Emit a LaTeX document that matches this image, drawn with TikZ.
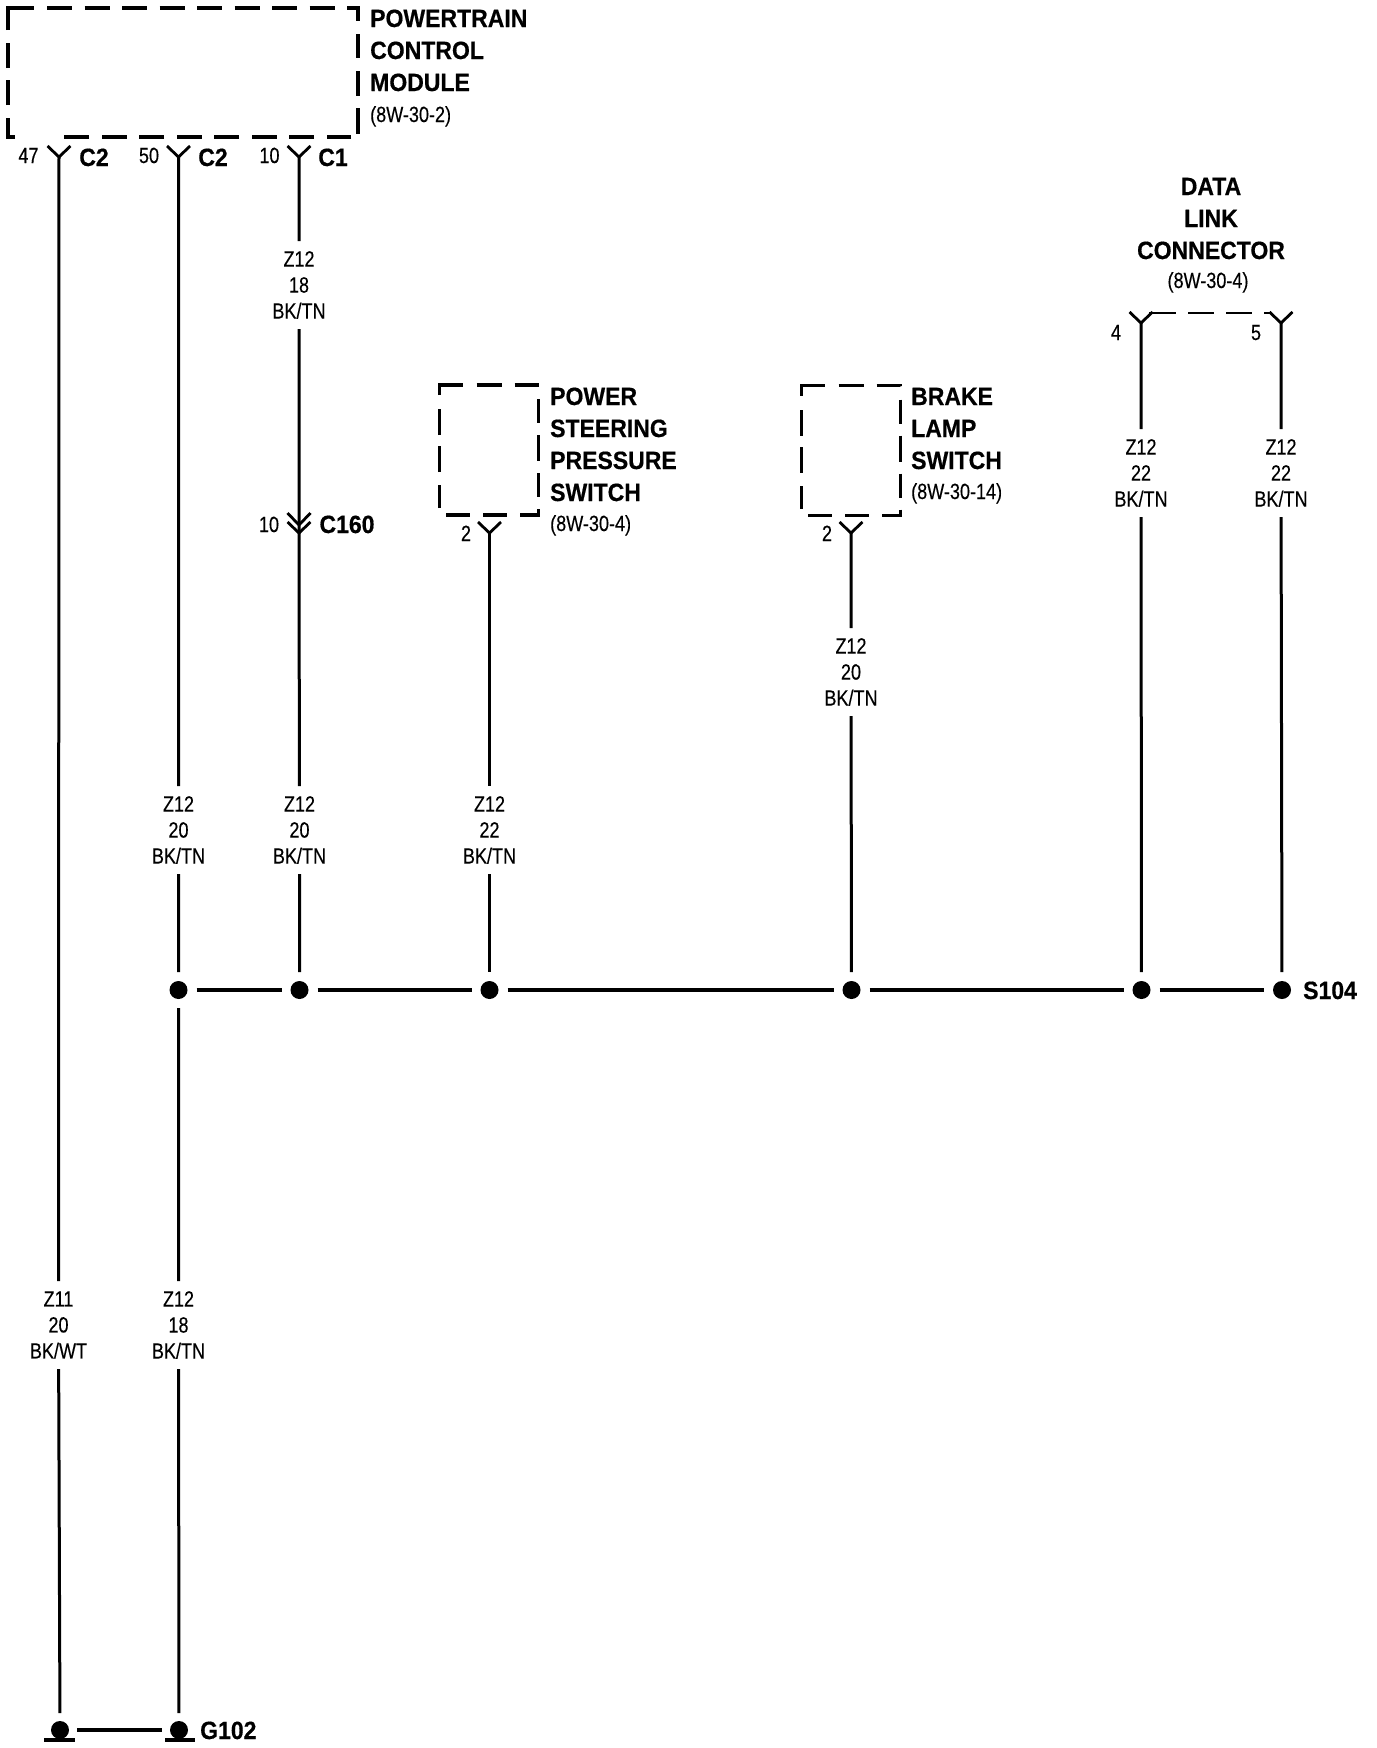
\documentclass[tikz,border=0pt]{standalone}
\usepackage{fontspec}
\newfontfamily\lblfont[FakeStretch=0.82,UprightFeatures={FakeBold=0.25}]{Liberation Sans}
\newfontfamily\hdrfont[FakeStretch=0.92,BoldFeatures={FakeBold=0.5}]{Liberation Sans}
\tikzset{
  wire/.style={line width=3pt,line cap=butt,line join=miter},
  bus/.style={line width=4.2pt},
  pinmark/.style={line width=2.8pt,line join=miter},
  boxline/.style={line width=3.6pt,line cap=butt,line join=miter},
  junction/.style={circle,fill=black,minimum size=18pt,inner sep=0pt,outer sep=9pt},
  wirelabel/.style={align=center,minimum height=88pt,inner sep=0pt,outer sep=0pt,
    font=\lblfont\fontsize{22}{26}\selectfont},
  small/.style={inner sep=0pt,text height=16pt,text depth=0pt,font=\lblfont\fontsize{22}{26}\selectfont},
  head/.style={inner sep=0pt,text height=18pt,text depth=0pt,font=\hdrfont\bfseries\fontsize{25}{30}\selectfont},
  holder/.style={inner sep=0pt,outer sep=0pt},
  psdash/.style={boxline,dash pattern=on 33pt off 14pt on 25pt off 13pt on 24pt off 14pt on 24pt off 12pt on 26pt off 12pt on 24pt off 12pt on 25pt off 13pt on 24pt off 13pt on 24pt off 13pt on 23pt off 13pt on 26pt off 11pt on 26pt off 14pt}
}
\newcommand\Ypin[3]{\coordinate (#1) at (#2,#3);
  \draw[pinmark] ([shift={(-11.5,-11)}]#1) -- (#1) -- ([shift={(11.5,-11)}]#1);}
\begin{document}
\begin{tikzpicture}[x=1pt,y=-1pt]
\useasboundingbox (0,0) rectangle (1376,1748);
% PCM box
\node[holder,minimum width=350pt,minimum height=129pt] (pcm) at (183,72.5) {};
\draw[boxline,dash pattern=on 26pt off 13pt on 25pt off 12pt on 25pt off 13pt on 48pt off 13pt on 25pt off 12.5pt on 25pt off 12.5pt on 25pt off 12.5pt on 25pt off 12.5pt on 25pt off 12.5pt on 25pt off 12.5pt on 25pt off 12.5pt on 25pt off 12.5pt on 25pt]
  ([xshift=7pt]pcm.south west) -- (pcm.south west) -- (pcm.north west) -- (pcm.north east) -- ([yshift=-13pt]pcm.north east);
\draw[boxline,dash pattern=on 24pt off 13pt on 25pt off 12pt on 26pt off 10pt on 24pt off 13pt on 25pt off 12.5pt on 25pt off 12.5pt on 25pt off 12.5pt on 25pt off 12.5pt on 25pt off 12.5pt on 25pt off 12.5pt on 25pt]
  ([yshift=-26pt]pcm.north east) -- (pcm.south east) -- ([xshift=38pt]pcm.south west);
\node[head,anchor=west] (t1) at (370,18) {POWERTRAIN};
\node[head,anchor=west] (t2) at (370,50) {CONTROL};
\node[head,anchor=west] (t3) at (370,82) {MODULE};
\node[small,anchor=west] (t4) at (370,114) {(8W-30-2)};
% PCM pins
\Ypin{p47}{59}{157}
\Ypin{p50}{178.5}{157}
\Ypin{p10}{299}{157}
\node[small] (n47) at (28.5,155) {47};
\node[small] (n50) at (149,155) {50};
\node[small] (n10) at (269.5,155) {10};
\node[head] (c2a) at (94,157) {C2};
\node[head] (c2b) at (213,157) {C2};
\node[head] (c1) at (333,157) {C1};
% C160 connector
\coordinate (c160up) at (299,525);
\coordinate (c160lo) at (299,533);
\draw[pinmark] ([shift={(-11.5,-12)}]c160up) -- (c160up) -- ([shift={(11.5,-12)}]c160up);
\draw[pinmark] ([shift={(-11.5,-11)}]c160lo) -- (c160lo) -- ([shift={(11.5,-11)}]c160lo);
\node[small] (n10b) at (269,524) {10};
\node[head] (c160) at (347,524) {C160};
% Power steering switch
\node[holder,minimum width=99pt,minimum height=130pt] (ps) at (489,450) {};
\draw[psdash] ([yshift=-10pt]ps.north west) -- (ps.north west) -- (ps.north east) -- (ps.south east) -- (ps.south west) -- cycle;
\node[head,anchor=west] (s1) at (550,396) {POWER};
\node[head,anchor=west] (s2) at (550,428) {STEERING};
\node[head,anchor=west] (s3) at (550,460) {PRESSURE};
\node[head,anchor=west] (s4) at (550,492) {SWITCH};
\node[small,anchor=west] (s5) at (550,523) {(8W-30-4)};
\Ypin{pps}{489.5}{533}
\node[small] (n2a) at (466,533) {2};
% Brake lamp switch
\node[holder,minimum width=99pt,minimum height=130pt] (bk) at (851,450.5) {};
\draw[psdash] ([yshift=-10pt]bk.north west) -- (bk.north west) -- (bk.north east) -- (bk.south east) -- (bk.south west) -- cycle;
\node[head,anchor=west] (b1) at (911,396) {BRAKE};
\node[head,anchor=west] (b2) at (911,428) {LAMP};
\node[head,anchor=west] (b3) at (911,460) {SWITCH};
\node[small,anchor=west] (b4) at (911,491) {(8W-30-14)};
\Ypin{pbk}{851}{533}
\node[small] (n2b) at (827,533) {2};
% Data link connector
\node[head] (d1) at (1211,186) {DATA};
\node[head] (d2) at (1211,218) {LINK};
\node[head] (d3) at (1211,250) {CONNECTOR};
\node[small] (d4) at (1208,280) {(8W-30-4)};
\Ypin{pd4}{1141}{323}
\Ypin{pd5}{1281}{323}
\draw[pinmark,dash pattern=on 27pt off 12pt on 26pt off 12pt on 26pt off 12pt on 7pt]
  ([shift={(8,-10)}]pd4) -- ([shift={(-11.5,-10)}]pd5);
\node[small] (n4) at (1116,332) {4};
\node[small] (n5) at (1256,332) {5};
% Junctions
\node[junction] (j1) at (178.5,990) {};
\node[junction] (j2) at (299.5,990) {};
\node[junction] (j3) at (489.5,990) {};
\node[junction] (j4) at (851.5,990) {};
\node[junction] (j5) at (1141.5,990) {};
\node[junction] (j6) at (1282,990) {};
\node[head,anchor=west] (s104) at (1303,990) {S104};
\draw[bus,line width=3.4pt] (j1) -- (j2);
\draw[bus] (j2) -- (j3);
\draw[bus] (j3) -- (j4);
\draw[bus] (j4) -- (j5);
\draw[bus] (j5) -- (j6);
% Wire labels
\node[wirelabel] (l47) at (58.5,1325) {Z11\\20\\BK/WT};
\node[wirelabel] (l50u) at (178.5,830) {Z12\\20\\BK/TN};
\node[wirelabel] (l50d) at (178.5,1325) {Z12\\18\\BK/TN};
\node[wirelabel] (l10u) at (299,285) {Z12\\18\\BK/TN};
\node[wirelabel] (l10d) at (299.5,830) {Z12\\20\\BK/TN};
\node[wirelabel] (lps) at (489.5,830) {Z12\\22\\BK/TN};
\node[wirelabel] (lbk) at (851,672) {Z12\\20\\BK/TN};
\node[wirelabel] (ld4) at (1141,473) {Z12\\22\\BK/TN};
\node[wirelabel] (ld5) at (1281,473) {Z12\\22\\BK/TN};
% Grounds
\node[junction,outer sep=8pt] (g1) at (60,1730) {};
\node[junction,outer sep=8pt] (g2) at (179,1730) {};
\node[head,anchor=west] (g102) at (200,1730) {G102};
\draw[boxline] ([shift={(-16,10)}]g1.center) -- ([shift={(15,10)}]g1.center);
\draw[boxline] ([shift={(-14,10)}]g2.center) -- ([shift={(16,10)}]g2.center);
\draw[bus,line width=3.6pt] (g1) -- (g2);
% Wires
\draw[wire] (p47) -- (l47) -- (g1);
\draw[wire] (p50) -- (l50u) -- (j1) -- (l50d) -- (g2);
\draw[wire] (p10) -- (l10u) -- (c160lo) -- (l10d) -- (j2);
\draw[wire] (pps) -- (lps) -- (j3);
\draw[wire] (pbk) -- (lbk) -- (j4);
\draw[wire] (pd4) -- (ld4) -- (j5);
\draw[wire] (pd5) -- (ld5) -- (j6);
\end{tikzpicture}
\end{document}
